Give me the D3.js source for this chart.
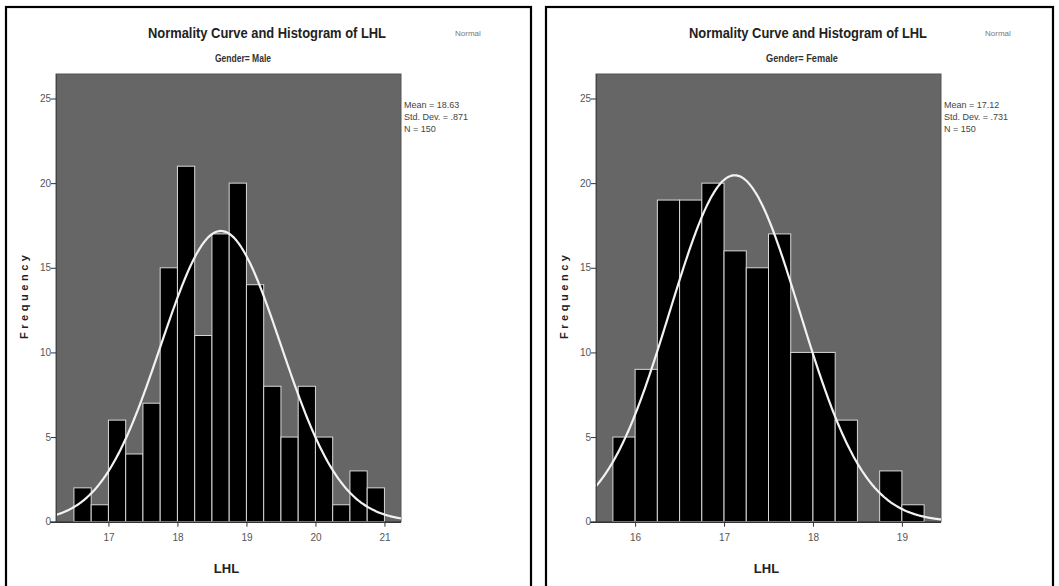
<!DOCTYPE html>
<html>
<head>
<meta charset="utf-8">
<script src="https://cdn.jsdelivr.net/npm/d3@7"></script>
<style>
  html, body { margin: 0; padding: 0; background: #ffffff; }
  svg { display: block; }
  text { font-family: "Liberation Sans", Arial, sans-serif; }
</style>
</head>
<body>
<script>
// ---- data -------------------------------------------------------------
const binWidth = 0.25;

const maleBinStarts = [16.5, 16.75, 17.0, 17.25, 17.5, 17.75, 18.0, 18.25, 18.5,
                       18.75, 19.0, 19.25, 19.5, 19.75, 20.0, 20.25, 20.5, 20.75];
const maleCounts    = [2, 1, 6, 4, 7, 15, 21, 11, 17, 20, 14, 8, 5, 8, 5, 1, 3, 2];
const maleMean = 18.63, maleSD = 0.871, maleN = 150;
const maleStatLines = ["Mean = 18.63", "Std. Dev. = .871", "N = 150"];
const maleXTicks = [17, 18, 19, 20, 21];

const femaleBinStarts = [15.75, 16.0, 16.25, 16.5, 16.75, 17.0, 17.25, 17.5,
                         17.75, 18.0, 18.25, 18.5, 18.75, 19.0];
const femaleCounts    = [5, 9, 19, 19, 20, 16, 15, 17, 10, 10, 6, 0, 3, 1];
const femaleMean = 17.12, femaleSD = 0.731, femaleN = 150;
const femaleStatLines = ["Mean = 17.12", "Std. Dev. = .731", "N = 150"];
const femaleXTicks = [16, 17, 18, 19];

const yTicks = [0, 5, 10, 15, 20, 25];

const chartTitle = "Normality Curve and Histogram of LHL";
const legendLabel = "Normal";
const xLabel = "LHL";
const yLabel = "Frequency";

// ---- layout -----------------------------------------------------------
const W = 1059, H = 586;
const svg = d3.select("body").append("svg").attr("width", W).attr("height", H);

const panels = [
  {
    frame: [6, 7, 525, 600],
    plot: { left: 56, right: 401 },
    xDomain: [16.24, 21.24],
    starts: maleBinStarts, counts: maleCounts,
    mean: maleMean, sd: maleSD, n: maleN,
    stats: maleStatLines, xTicks: maleXTicks,
    subtitle: "Gender= Male", subtitleLen: 56,
    titleX: 267, subtitleX: 243, legendX: 455
  },
  {
    frame: [546, 7, 507, 600],
    plot: { left: 596, right: 941 },
    xDomain: [15.56, 19.44],
    starts: femaleBinStarts, counts: femaleCounts,
    mean: femaleMean, sd: femaleSD, n: femaleN,
    stats: femaleStatLines, xTicks: femaleXTicks,
    subtitle: "Gender= Female", subtitleLen: 72,
    titleX: 808, subtitleX: 802, legendX: 985
  }
];

const plotTop = 74, plotBottom = 521.7;
const y = d3.scaleLinear().domain([0, 25]).range([plotBottom, 98.5]);

panels.forEach(p => {
  const g = svg.append("g");

  // outer frame
  g.append("rect")
    .attr("x", p.frame[0]).attr("y", p.frame[1])
    .attr("width", p.frame[2]).attr("height", p.frame[3])
    .attr("fill", "none").attr("stroke", "#000").attr("stroke-width", 2.2);

  const x = d3.scaleLinear().domain(p.xDomain).range([p.plot.left, p.plot.right]);

  // plot background
  g.append("rect")
    .attr("x", p.plot.left).attr("y", plotTop)
    .attr("width", p.plot.right - p.plot.left).attr("height", plotBottom - plotTop)
    .attr("fill", "#666666").attr("stroke", "#555").attr("stroke-width", 1);

  // histogram bars
  const bins = p.starts.map((s, i) => ({ x0: s, x1: s + binWidth, count: p.counts[i] }))
                       .filter(d => d.count > 0);
  g.append("g").selectAll("rect").data(bins).join("rect")
    .attr("x", d => x(d.x0))
    .attr("y", d => y(d.count))
    .attr("width", d => x(d.x1) - x(d.x0))
    .attr("height", d => y(0) - y(d.count))
    .attr("fill", "#000")
    .attr("stroke", "#d8d8d8")
    .attr("stroke-width", 1);

  // fitted normal curve: expected count per bin
  const scale = p.n * binWidth / (p.sd * Math.sqrt(2 * Math.PI));
  const xs = d3.range(0, 301).map(i => p.xDomain[0] + (p.xDomain[1] - p.xDomain[0]) * i / 300);
  const curve = xs.map(v => [v, scale * Math.exp(-0.5 * ((v - p.mean) / p.sd) ** 2)]);
  g.append("path")
    .datum(curve)
    .attr("fill", "none")
    .attr("stroke", "#f2f2f2")
    .attr("stroke-width", 2.2)
    .attr("d", d3.line().x(d => x(d[0])).y(d => y(d[1])).curve(d3.curveBasis));

  // x axis
  const xAxis = d3.axisBottom(x).tickValues(p.xTicks).tickSize(5).tickSizeOuter(0)
                  .tickFormat(d3.format("d"));
  const xa = g.append("g").attr("transform", `translate(0,${plotBottom})`).call(xAxis);
  xa.select(".domain").attr("d", `M${p.plot.left - 6},0.5H${p.plot.right}`)
    .attr("stroke", "#333").attr("stroke-width", 1.5);
  xa.selectAll(".tick line").attr("stroke", "#333");
  xa.selectAll(".tick text").attr("fill", "#555").attr("font-size", 10).attr("dy", "1.1em")
    .style("font-family", "'Liberation Sans', Arial, sans-serif");

  // y axis
  const yAxis = d3.axisLeft(y).tickValues(yTicks).tickSize(5).tickSizeOuter(0)
                  .tickFormat(d3.format("d"));
  const ya = g.append("g").attr("transform", `translate(${p.plot.left},0)`).call(yAxis);
  ya.select(".domain").attr("stroke", "#444").attr("d", `M0.5,${plotTop}V${plotBottom}`);
  ya.selectAll(".tick line").attr("stroke", "#333");
  ya.selectAll(".tick text").attr("fill", "#555").attr("font-size", 10).attr("x", -5)
    .style("font-family", "'Liberation Sans', Arial, sans-serif");

  // titles
  g.append("text").attr("x", p.titleX).attr("y", 38)
    .attr("text-anchor", "middle").attr("font-size", 14).attr("font-weight", "bold")
    .attr("fill", "#222").attr("textLength", 238).attr("lengthAdjust", "spacingAndGlyphs")
    .text(chartTitle);
  g.append("text").attr("x", p.subtitleX).attr("y", 62)
    .attr("text-anchor", "middle").attr("font-size", 10).attr("font-weight", "bold")
    .attr("fill", "#333").attr("textLength", p.subtitleLen).attr("lengthAdjust", "spacingAndGlyphs")
    .text(p.subtitle);
  g.append("text").attr("x", p.legendX).attr("y", 36)
    .attr("font-size", 8).attr("fill", "#777")
    .text(legendLabel);

  // summary statistics
  g.append("g").selectAll("text").data(p.stats).join("text")
    .attr("x", p.plot.right + 3)
    .attr("y", (d, i) => 108 + i * 12)
    .attr("font-size", 9).attr("fill", "#444")
    .text(d => d);

  // axis titles
  g.append("text")
    .attr("x", (p.plot.left + p.plot.right) / 2 - 2).attr("y", 573)
    .attr("text-anchor", "middle").attr("font-size", 13).attr("font-weight", "bold")
    .attr("fill", "#222").text(xLabel);
  g.append("text")
    .attr("transform", `translate(${p.plot.left - 28},297) rotate(-90)`)
    .attr("text-anchor", "middle").attr("font-size", 11).attr("font-weight", "bold")
    .attr("fill", "#222").attr("textLength", 84).attr("lengthAdjust", "spacing")
    .text(yLabel);
});
</script>
</body>
</html>
